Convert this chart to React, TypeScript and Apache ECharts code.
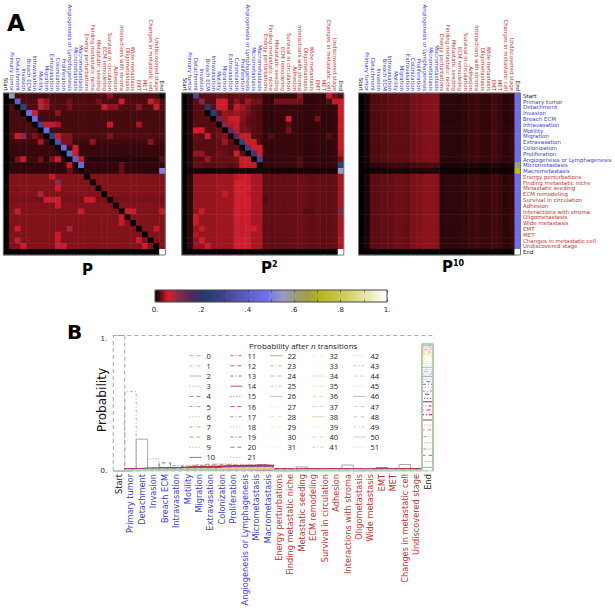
import React, { useEffect, useRef } from "react";
import * as echarts from "echarts";

const categories = ["Start","Primary tumor","Detachment","Invasion","Breach ECM","Intravasation","Motility","Migration","Extravasation","Colonization","Proliferation","Angiogenesis or Lymphagenesis","Micrometastasis","Macrometastasis","Energy perturbations","Finding metastatic niche","Metastatic seeding","ECM remodeling","Survival in circulation","Adhesion","Interactions with stroma","Oligometastasis","Wide metastasis","EMT","MET","Changes in metastatic cell","Undiscovered stage","End"];

// Heat map values are per mille.
const pRowLevel = [18,20,20,18,18,18,18,20,16,14,14,10,12,12,33,33,33,33,30,33,33,33,33,33,33,33,33,0];
const pCells = [
[0,1,560],[0,18,35],[0,27,0],
[1,1,0],[1,2,400],[1,6,55],[1,7,38],[1,11,30],[1,16,30],[1,20,55],[1,25,55],[1,26,36],
[2,2,0],[2,3,250],[2,6,80],[2,7,40],[2,11,30],[2,17,55],[2,18,36],[2,19,36],[2,23,36],[2,26,55],
[3,3,0],[3,4,450],[3,5,60],[3,9,36],
[4,4,0],[4,5,450],
[5,5,0],[5,6,300],[5,7,50],[5,8,80],[5,9,42],[5,18,50],[5,23,42],
[6,6,0],[6,7,450],
[7,2,55],[7,3,105],[7,5,32],[7,7,0],[7,8,250],[7,9,55],[7,10,32],[7,11,32],[7,18,32],
[8,6,42],[8,8,0],[8,9,350],[8,10,32],[8,11,32],[8,15,36],[8,25,36],
[9,9,0],[9,10,450],[9,12,55],
[10,10,0],[10,11,420],[10,12,55],
[11,2,30],[11,3,50],[11,4,15],[11,5,15],[11,6,30],[11,8,30],[11,9,55],[11,11,0],[11,12,400],[11,13,50],[11,27,22],
[12,11,50],[12,12,0],[12,13,450],[12,20,26],
[13,11,26],[13,13,0],[13,20,26],[13,27,510],
[14,8,50],[14,14,0],
[15,9,105],[15,15,0],
[16,9,55],[16,16,0],
[17,6,85],[17,17,0],
[18,7,55],[18,8,70],[18,9,55],[18,14,55],[18,15,55],[18,18,0],
[19,9,50],[19,19,0],
[20,2,75],[20,13,55],[20,20,0],[20,21,55],[20,22,55],[20,27,50],
[21,20,50],[21,21,0],
[22,20,50],[22,22,0],
[23,2,55],[23,11,85],[23,23,0],[23,26,50],
[24,9,50],[24,24,0],
[25,2,78],[25,9,50],[25,23,55],[25,25,0],
[26,3,55],[26,9,72],[26,10,55],[26,24,55],[26,26,0],
[27,27,1000],
];

const p2UpperRow = [0,10,22,22,22,22,25,25,22,25,24,24,22,20,12,12,14,14,14,14,14,12,12,14,12,12,14,50];
const p2LowerRow = [0,12,38,38,38,38,40,40,40,48,52,52,43,43,24,24,25,25,26,26,28,26,24,26,24,24,26,42];
const p2MacroRow = [0,6,7,7,7,6,7,7,6,7,7,7,7,7,6,6,5,6,4,6,6,6,6,6,6,6,6,550];
const p2EmptyRow = [0,0,0,0,0,0,0,0,0,0,0,0,0,0,0,0,0,0,0,0,0,0,0,0,0,0,0,1000];
const p2Rows = [p2UpperRow,p2UpperRow,p2UpperRow,p2UpperRow,p2UpperRow,p2UpperRow,p2UpperRow,p2UpperRow,p2UpperRow,p2UpperRow,p2UpperRow,p2UpperRow,p2UpperRow,p2MacroRow,p2LowerRow,p2LowerRow,p2LowerRow,p2LowerRow,p2LowerRow,p2LowerRow,p2LowerRow,p2LowerRow,p2LowerRow,p2LowerRow,p2LowerRow,p2LowerRow,p2LowerRow,p2EmptyRow];
const p2Cells = [
[0,2,300],[0,20,35],[0,25,50],[0,26,30],[0,27,20],
[1,3,120],[1,6,55],[1,7,55],[1,9,35],[1,11,40],[1,12,30],[1,13,30],[1,16,30],[1,17,30],[1,18,30],[1,19,30],[1,20,30],[1,25,20],[1,26,50],[1,27,55],
[2,4,200],[2,6,55],[2,7,55],[2,9,50],[2,10,40],[2,11,30],[2,27,55],
[3,4,2],[3,5,240],[3,7,40],[3,8,35],[3,9,40],[3,10,35],[3,11,30],[3,27,55],
[4,5,2],[4,6,130],[4,7,40],[4,8,55],[4,9,55],[4,10,35],[4,18,60],[4,23,30],
[5,6,4],[5,7,110],[5,8,45],[5,9,50],[5,10,30],[5,18,22],[5,27,55],
[6,2,60],[6,3,60],[6,7,2],[6,8,140],[6,9,50],[6,10,30],[6,11,30],[6,18,30],
[7,2,25],[7,4,55],[7,6,30],[7,7,35],[7,8,6],[7,9,150],[7,10,50],[7,11,50],[7,15,20],[7,25,20],
[8,7,40],[8,9,4],[8,10,260],[8,11,55],[8,12,55],
[9,10,2],[9,11,280],[9,12,60],[9,13,55],
[10,2,38],[10,3,38],[10,6,30],[10,9,55],[10,11,2],[10,12,260],[10,13,60],[10,27,45],
[11,4,40],[11,6,26],[11,8,26],[11,9,30],[11,10,55],[11,11,55],[11,12,2],[11,13,300],[11,20,20],[11,27,30],
[12,2,26],[12,3,26],[12,10,50],[12,11,50],[12,12,50],[12,13,4],[12,20,20],[12,27,250],
[15,9,60],[15,10,60],
[16,9,60],[16,10,60],[16,11,60],
[17,7,50],[17,9,65],[17,10,60],
[18,8,42],[18,9,60],[18,10,60],[18,11,60],[18,14,19],
[19,9,60],[19,10,60],[19,11,60],
[20,3,55],[20,9,60],[20,21,20],[20,22,20],[20,27,120],
[21,2,50],[21,9,65],
[22,2,50],[22,9,70],
[23,3,50],[23,9,65],[23,11,60],[23,12,60],
[24,2,44],[24,9,65],
[25,3,60],[25,9,65],[25,10,65],[25,11,65],[25,27,46],
[26,4,55],[26,9,60],[26,10,60],[26,11,60],
];

const p10Upper = [0,7,20,20,21,23,25,25,23,29,30,33,33,34,11,11,11,11,12,14,16,13,13,16,14,10,13,470];
const p10Mid = [0,7,20,20,21,23,24,24,23,28,30,32,33,32,11,11,11,11,12,14,16,13,13,17,14,11,14,470];
const p10Micro = [0,5,12,12,13,14,15,15,13,17,18,19,20,19,7,7,7,7,8,9,10,8,8,10,9,7,8,580];
const p10Macro = [0,2,5,5,6,6,7,7,6,8,8,9,9,9,3,3,3,3,3,4,4,3,4,4,4,3,4,720];
const p10Lower = [0,7,23,23,24,25,28,28,25,31,33,35,35,34,11,12,12,12,13,15,17,14,14,17,15,11,14,470];
const p10Empty = [0,0,0,0,0,0,0,0,0,0,0,0,0,0,0,0,0,0,0,0,0,0,0,0,0,0,0,1000];
const p10Rows = [p10Upper,p10Upper,p10Upper,p10Upper,p10Upper,p10Upper,p10Mid,p10Mid,p10Mid,p10Mid,p10Mid,p10Mid,p10Micro,p10Macro,p10Lower,p10Lower,p10Lower,p10Lower,p10Lower,p10Lower,p10Lower,p10Lower,p10Lower,p10Lower,p10Lower,p10Lower,p10Lower,p10Empty];

// Probability in each state after n transitions (Start ... Undiscovered stage).
const bodyN0 = [1,0,0,0,0,0,0,0,0,0,0,0,0,0,0,0,0,0,0,0,0,0,0,0,0,0,0];
const bodyN1 = [0,.586,0,0,0,0,0,0,0,0,0,0,0,0,0,0,0,0,0,0,0,0,0,0,0,0,0];
const bodyN2 = [0,.004,.235,.004,.004,.004,.014,.01,.004,.006,.004,.008,.002,.002,.002,.002,.03,.01,.01,.004,.044,.002,.002,.025,.006,.048,.014];
const bodyN3 = [0,.008,.012,.09,.012,.01,.02,.016,.012,.014,.012,.01,.004,.004,.004,.004,.006,.012,.012,.006,.012,.004,.004,.006,.004,.012,.014];
const bodyN4 = [0,.008,.014,.018,.06,.014,.018,.02,.022,.018,.014,.012,.01,.008,.004,.004,.006,.006,.014,.005,.014,.004,.005,.012,.005,.01,.012];
const bodyN5 = [0,.01,.014,.016,.022,.04,.024,.03,.03,.03,.028,.026,.024,.022,.006,.005,.008,.007,.012,.007,.012,.005,.006,.012,.006,.012,.01];
const bodyN6 = [0,.01,.016,.016,.018,.024,.042,.036,.038,.036,.032,.03,.028,.028,.006,.006,.008,.008,.012,.008,.012,.006,.007,.012,.007,.012,.01];
const bodyN7 = [0,.012,.016,.018,.018,.026,.034,.046,.042,.044,.04,.036,.032,.032,.007,.007,.009,.008,.012,.008,.012,.007,.008,.012,.008,.012,.01];
const bodyN8 = [0,.012,.018,.018,.022,.026,.034,.04,.05,.048,.044,.042,.04,.038,.008,.007,.009,.009,.012,.009,.012,.007,.008,.012,.008,.012,.01];
const bodyN9 = [0,.012,.018,.02,.022,.026,.032,.036,.042,.052,.05,.048,.046,.044,.008,.008,.01,.009,.012,.009,.012,.008,.008,.012,.009,.012,.01];
const bodyN10 = [0,.015,.019,.021,.024,.026,.03,.032,.034,.038,.04,.042,.044,.042,.014,.014,.015,.015,.016,.015,.016,.014,.015,.022,.015,.016,.014];
const bodyN11to14 = [0,.016,.02,.021,.022,.024,.027,.029,.03,.034,.037,.04,.042,.04,.014,.013,.014,.014,.015,.014,.015,.013,.014,.016,.014,.015,.014];
const bodyN15to20 = [0,.013,.017,.018,.019,.02,.023,.024,.024,.029,.031,.034,.035,.035,.011,.011,.012,.012,.012,.012,.013,.011,.012,.013,.012,.012,.011];
const bodyN21to28 = [0,.009,.012,.013,.013,.014,.016,.017,.017,.021,.022,.024,.025,.025,.006,.006,.007,.007,.008,.007,.008,.006,.007,.008,.007,.007,.007];
const bodyN29to38 = [0,.005,.008,.008,.009,.009,.011,.011,.011,.014,.015,.016,.017,.017,.004,.004,.004,.004,.005,.004,.005,.004,.004,.005,.004,.004,.004];
const bodyN39to51 = [0,.003,.005,.005,.006,.006,.007,.007,.007,.009,.009,.01,.011,.011,.002,.002,.003,.003,.003,.003,.003,.003,.003,.003,.003,.003,.003];
const bodyByN = [bodyN0,bodyN1,bodyN2,bodyN3,bodyN4,bodyN5,bodyN6,bodyN7,bodyN8,bodyN9,bodyN10,
  bodyN11to14,bodyN11to14,bodyN11to14,bodyN11to14,
  bodyN15to20,bodyN15to20,bodyN15to20,bodyN15to20,bodyN15to20,bodyN15to20,
  bodyN21to28,bodyN21to28,bodyN21to28,bodyN21to28,bodyN21to28,bodyN21to28,bodyN21to28,bodyN21to28,
  bodyN29to38,bodyN29to38,bodyN29to38,bodyN29to38,bodyN29to38,bodyN29to38,bodyN29to38,bodyN29to38,bodyN29to38,bodyN29to38,
  bodyN39to51,bodyN39to51,bodyN39to51,bodyN39to51,bodyN39to51,bodyN39to51,bodyN39to51,bodyN39to51,bodyN39to51,bodyN39to51,bodyN39to51,bodyN39to51,bodyN39to51];
const endByN = [0,0,.027,.069,.116,.162,.209,.253,.303,.339,.376,.416,.45,.48,.511,.536,.566,.59,.618,.64,.659,.679,.699,.716,.733,.75,.765,.78,.795,.81,.821,.834,.844,.854,.863,.873,.88,.888,.895,.903,.908,.913,.917,.923,.926,.928,.93,.932,.935,.937,.94,.943];

const lineColors = ["#9a9a9a","#a8a8a0","#a89f9a","#8f8f8f","#8a6a50","#a08050","#b09060","#c09070","#c08a60","#c08060","#a04050","#b83860","#b82c50","#b03058","#a82060","#b83080","#b01870","#c060a0","#c080c0","#8050a0","#7050b0","#8090b0","#8090c0","#90b0b0","#90b0c0","#a0c0b0","#a0b8a8","#c8d8c0","#d8e0a0","#e0e8a8","#f0f0c0","#f0f0c8","#f0e8a8","#f0e8b0","#f0d8a0","#f0d0a0","#f0c8a0","#f0c090","#f0c090","#e8d0b0","#d8c8a8","#c8c8b8","#c0c8c0","#b0b8c8","#b8c0d0","#c0c0d0","#a8a8d0","#b8c8c8","#b0c8b8","#b0d0b0","#a8d0a0","#b8d8b0"];
const lineKinds = ["d","a","s","o","d","a","o","a","d","o","s","a","d","a","s","o","d","a","o","a","d","o","s","a","d","a","s","o","d","a","o","a","a","o","s","d","d","a","s","o","d","a","o","a","d","o","s","d","d","a","s","o"];
const dashFor: any = { d: [4, 3], a: [3, 2, 1, 2], o: [1, 2], s: "solid" };

const legendColumns = [
  { left: 189, names: ["0","1","2","3","4","5","6","7","8","9","10"] },
  { left: 230, names: ["11","12","13","14","15","16","17","18","19","20","21"] },
  { left: 270, names: ["22","23","24","25","26","27","28","29","30","31"] },
  { left: 312, names: ["32","33","34","35","36","37","38","39","40","41"] },
  { left: 353, names: ["42","43","44","45","46","47","48","49","50","51"] },
];

const rampStops: [number, string][] = [[0,"#000000"],[.055,"#d81e2c"],[.1,"#8a2a48"],[.16,"#4a2a5c"],[.22,"#1f3c70"],[.3,"#44448f"],[.4,"#5e5ec8"],[.48,"#7070f0"],[.55,"#9a9ac8"],[.6,"#9c9c7c"],[.66,"#a0a040"],[.72,"#b8b820"],[.8,"#c8c850"],[.9,"#e4e4a0"],[1,"#ffffff"]];
const colorbarTicks = ["0.",".1",".2",".3",".4",".5",".6",".7",".8",".9","1."];

const BLUE = "#4040c4";
const RED = "#b83434";
const FONT = "DejaVu Sans";

function labelColor(index: number) {
  if (index === 0 || index === 27) return "#111111";
  return index <= 13 ? BLUE : RED;
}

function rampColors(n: number) {
  const hex = (s: string) => [1, 3, 5].map((i) => parseInt(s.slice(i, i + 2), 16));
  const out: string[] = [];
  for (let k = 0; k <= n; k++) {
    const t = k / n;
    let i = 0;
    while (i < rampStops.length - 2 && rampStops[i + 1][0] < t) i++;
    const [a, ca] = rampStops[i];
    const [b, cb] = rampStops[i + 1];
    const f = (t - a) / (b - a);
    const A = hex(ca), B = hex(cb);
    out.push(`rgb(${A.map((x, j) => Math.round(x + (B[j] - x) * f)).join(",")})`);
  }
  return out;
}

function matrixData(rows: number[][], cells: number[][]) {
  const m = rows.map((r) => r.slice());
  cells.forEach(([r, c, v]) => { m[r][c] = v; });
  const out: number[][] = [];
  m.forEach((row, r) => row.forEach((v, c) => out.push([c, r, v / 1000])));
  return out;
}

function stepPoints(values: number[]) {
  const pts: number[][] = [[0, 0]];
  values.forEach((v, i) => { pts.push([i, v], [i + 1, v]); });
  pts.push([values.length, 0]);
  return pts;
}

const pRows = pRowLevel.map((level) => categories.map((_, c) => (c === 0 ? 0 : level)));

const panels = [
  { left: 3.3, data: matrixData(pRows, pCells) },
  { left: 181.8, data: matrixData(p2Rows, p2Cells) },
  { left: 358.5, data: matrixData(p10Rows, []) },
];
const SIZE = 162;
const TOP = 93;

export default function App() {
  const ref = useRef<HTMLDivElement>(null);
  useEffect(() => {
    const chart = echarts.init(ref.current!, null, { renderer: "svg" });
    const grid: any[] = panels.map((p) => ({ left: p.left, top: TOP, width: SIZE, height: SIZE, show: true, borderColor: "#777", borderWidth: 1, backgroundColor: "transparent", z: 5, outerBoundsMode: "none" }));
    grid.push({ left: 155, top: 290, width: 232, height: 12, show: true, borderColor: "#444", borderWidth: 1, backgroundColor: "transparent", z: 10, outerBoundsMode: "none" });
    grid.push({ left: 113.3, top: 335.5, width: 320, height: 135.5, show: false, outerBoundsMode: "none" });

    const xAxis: any[] = panels.map((_, i) => ({
      type: "category", gridIndex: i, position: "top", data: categories,
      axisLine: { show: false }, axisTick: { show: false },
      axisLabel: { interval: 0, rotate: 90, margin: 2, fontSize: 5.4, fontFamily: FONT, color: (_v: any, idx: number) => labelColor(idx) },
    }));
    const yAxis: any[] = panels.map((_, i) => ({
      type: "category", gridIndex: i, inverse: true, data: categories, position: "right",
      axisLine: { show: false }, axisTick: { show: false },
      axisLabel: i === 2
        ? { show: true, interval: 0, margin: 2.5, fontSize: 5.5, fontFamily: FONT, color: (_v: any, idx: number) => labelColor(idx) }
        : { show: false },
    }));
    const barTicks = { show: true, inside: true, length: 2.5, lineStyle: { color: "#333", width: 0.6 } };
    xAxis.push({
      type: "value", gridIndex: 3, min: 0, max: 1, interval: 0.1, position: "bottom", z: 10,
      axisLine: { show: false }, axisTick: barTicks, splitLine: { show: false },
      axisLabel: { fontSize: 7, fontFamily: FONT, color: "#222", margin: 4, formatter: (v: number) => { const k = Math.round(v * 10); return k % 2 === 0 ? colorbarTicks[k] : ""; } },
    });
    xAxis.push({
      type: "value", gridIndex: 3, min: 0, max: 1, interval: 0.1, position: "top", z: 10,
      axisLine: { show: false }, axisTick: barTicks, splitLine: { show: false }, axisLabel: { show: false },
    });
    yAxis.push({ type: "value", gridIndex: 3, min: 0, max: 1, show: false });
    xAxis.push({
      type: "category", gridIndex: 4, position: "bottom", data: categories,
      axisLine: { show: false }, axisTick: { show: false },
      axisLabel: { interval: 0, rotate: 90, margin: 3, fontSize: 8.2, fontFamily: FONT, color: (_v: any, idx: number) => labelColor(idx) },
    });
    xAxis.push({ type: "value", gridIndex: 4, min: 0, max: 28, show: false });
    yAxis.push({
      type: "value", gridIndex: 4, min: 0, max: 1, interval: 1, position: "left",
      axisLine: { show: false }, axisTick: { show: false },
      splitLine: { show: true, lineStyle: { color: ["rgba(0,0,0,0)", "#aaaaaa"], type: [4, 3], width: 1 } },
      axisLabel: { margin: 6, fontSize: 7, fontFamily: FONT, color: "#222", verticalAlignMaxLabel: "top", formatter: (v: number) => (v === 1 ? "1." : "0.") },
    });

    const series: any[] = panels.map((p, i) => ({
      type: "heatmap", xAxisIndex: i, yAxisIndex: i, data: p.data, progressive: 0,
      itemStyle: { borderWidth: 0 }, silent: true,
    }));
    bodyByN.forEach((body, n) => {
      series.push({
        name: String(n), type: "line", xAxisIndex: 6, yAxisIndex: 4, symbol: "none", silent: true,
        data: stepPoints([...body, endByN[n]]),
        lineStyle: { color: lineColors[n], width: n >= 10 && n <= 16 ? 1.1 : 0.9, type: dashFor[lineKinds[n]] },
        itemStyle: { color: lineColors[n] },
      });
    });

    const legend = legendColumns.map((col) => ({
      orient: "vertical", left: col.left, top: 351.7, padding: 0, itemWidth: 12, itemHeight: 8, itemGap: 2.17,
      selectedMode: false, data: col.names,
      itemStyle: { opacity: 0, borderWidth: 0 },
      lineStyle: { width: 0.8 },
      textStyle: { fontSize: 7.6, fontFamily: "Open Sans", color: "#222" },
    }));

    const titleRich = {
      t: { fontSize: 15, fontWeight: "bold", fontFamily: FONT, fill: "#000" },
      s: { fontSize: 8, fontWeight: "bold", fontFamily: FONT, fill: "#000", verticalAlign: "top", padding: [0, 0, 8, 0] },
    };
    const graphic = [
      { type: "text", left: 7, top: 11, style: { text: "A", fontSize: 23, fontWeight: "bold", fontFamily: FONT, fill: "#000" } },
      { type: "text", left: 67, top: 322, style: { text: "B", fontSize: 20, fontWeight: "bold", fontFamily: FONT, fill: "#000" } },
      { type: "text", left: 82, top: 262, style: { text: "{t|P}", rich: titleRich } },
      { type: "text", left: 261, top: 260, style: { text: "{t|P}{s|2}", rich: titleRich } },
      { type: "text", left: 442, top: 259, style: { text: "{t|P}{s|10}", rich: titleRich } },
      { type: "text", x: 102, y: 400, rotation: Math.PI / 2, style: { text: "Probability", fontSize: 12.2, fontFamily: FONT, fill: "#111", align: "center", verticalAlign: "middle" } },
      { type: "text", left: 249, top: 341, style: {
        text: "{a|Probability after }{i|n}{a| transitions}",
        rich: {
          a: { fontSize: 8, fontFamily: "Open Sans", fill: "#222" },
          i: { fontSize: 8, fontFamily: "Open Sans", fontStyle: "italic", fill: "#222" },
        },
      } },
    ];

    chart.setOption({
      animation: false,
      textStyle: { fontFamily: FONT },
      grid, xAxis, yAxis, series, legend, graphic,
      visualMap: {
        type: "continuous", seriesIndex: [0, 1, 2], dimension: 2, min: 0, max: 1,
        orient: "horizontal", left: 155, top: 290, itemWidth: 12, itemHeight: 232, padding: 0,
        calculable: false, realtime: false, hoverLink: false, text: undefined, silent: true,
        inRange: { color: rampColors(100) },
      },
    });
    return () => chart.dispose();
  }, []);
  return <div ref={ref} style={{ position: "fixed", left: 0, top: 0, width: 615, height: 610, background: "#fff" }} />;
}
